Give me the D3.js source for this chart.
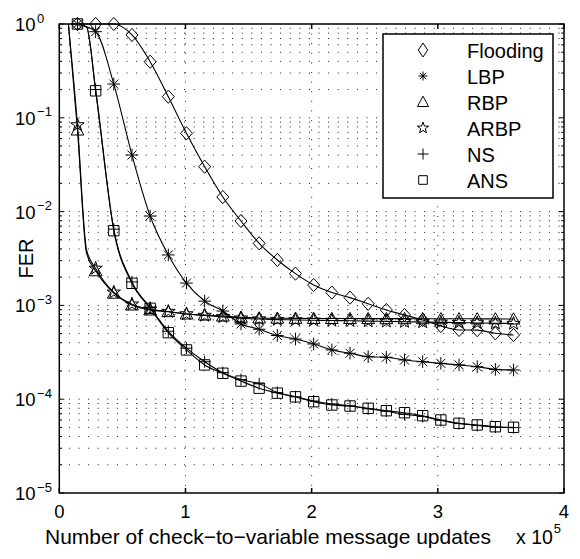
<!DOCTYPE html>
<html><head><meta charset="utf-8">
<script src="https://cdn.jsdelivr.net/npm/d3@7"></script>
<style>body{margin:0;background:#fff}svg{display:block}text{font-family:"Liberation Sans",Arial,Helvetica,sans-serif;fill:#000}</style>
</head><body><svg id="c" width="580" height="559"></svg>
<script>
// x positions of the plotted points (units of 1e5 message updates)
const markerX = [0.144,0.288,0.432,0.576,0.72,0.864,1.008,1.152,1.296,1.44,1.584,1.728,1.872,2.016,2.16,2.304,2.448,2.592,2.736,2.88,3.024,3.168,3.312,3.456,3.6];
const seriesNames = ["Flooding","LBP","RBP","ARBP","NS","ANS"];
const flooding = [1,1,1,0.764,0.396,0.168,0.0684,0.0301,0.0143,0.00794,0.00459,0.00305,0.00218,0.00165,0.00137,0.00121,0.00104,0.000893,0.00079,0.000699,0.000603,0.000547,0.000545,0.000504,0.000483];
const lbp = [1,0.828,0.229,0.0401,0.00897,0.00345,0.00173,0.00111,0.000871,0.000634,0.000557,0.000478,0.000438,0.000388,0.000335,0.000309,0.000284,0.00028,0.000262,0.000251,0.000241,0.000232,0.000222,0.000208,0.000205];
const rbp = [0.0741,0.00234,0.00135,0.00101,0.000893,0.000857,0.00081,0.00079,0.00077,0.000747,0.000735,0.00073,0.000728,0.000726,0.000725,0.000724,0.000723,0.000722,0.000722,0.000721,0.00072,0.00072,0.000719,0.000718,0.000716];
const arbp = [0.0838,0.00248,0.00138,0.00103,0.00091,0.00086,0.00081,0.00078,0.000755,0.00073,0.000715,0.000705,0.0007,0.000695,0.00069,0.000685,0.00068,0.000675,0.00067,0.000665,0.00066,0.000655,0.00065,0.000645,0.00064];
const ns = [1,0.2,0.0065,0.00178,0.00095,0.00053,0.00035,0.000251,0.000192,0.000162,0.000146,0.000118,0.000106,0.0000955,0.000089,0.000085,0.000079,0.0000745,0.000069,0.0000655,0.0000595,0.000055,0.0000525,0.0000505,0.0000498];
const ans = [1,0.194,0.00626,0.00172,0.000931,0.000512,0.000335,0.000232,0.000189,0.000156,0.000131,0.000116,0.000106,0.000094,0.0000867,0.0000846,0.00008,0.0000754,0.0000718,0.0000667,0.00006,0.0000553,0.0000531,0.0000509,0.0000501];
const rbpLead = [[0.072,1],[0.216,0.0036]];
const arbpLead = [[0.072,1],[0.216,0.0039]];
const nsLead = [[0.216,0.93]];
const ansLead = [[0.216,0.93]];
const xTicks = [0,1,2,3,4];
const yDecades = [-5,-4,-3,-2,-1,0];

const svg = d3.select("#c");
const W = 580, H = 559;
const L = 59.3, R = 564, T = 24, B = 493;
const x = d3.scaleLinear().domain([0,4]).range([L,R]);
const y = d3.scaleLog().domain([1e-5,1]).range([B,T]);

svg.append("rect").attr("width",W).attr("height",H).attr("fill","#fff");

// grid
const g = svg.append("g");
const gridY = [];
yDecades.forEach(d => { if (d < 0) for (let m = 1; m <= 9; m++) gridY.push(m*Math.pow(10,d)); });
gridY.filter(v => v > 1e-5*1.0001).forEach(v => {
  g.append("line").attr("x1",L).attr("x2",R).attr("y1",y(v)).attr("y2",y(v))
   .attr("stroke","#000").attr("stroke-width",0.9).attr("stroke-dasharray","1,8.6");
});
xTicks.filter(t => t > 0 && t < 4).forEach(t => {
  g.append("line").attr("x1",x(t)).attr("x2",x(t)).attr("y1",T).attr("y2",B)
   .attr("stroke","#000").attr("stroke-width",0.9).attr("stroke-dasharray","1,8.6");
});

// markers
function pentagram(ro, ri){
  const p=[]; for(let i=0;i<10;i++){const r=i%2?ri:ro; const a=-Math.PI/2+i*Math.PI/5; p.push([r*Math.cos(a), r*Math.sin(a)]);}
  return "M"+p.map(q=>q[0].toFixed(2)+","+q[1].toFixed(2)).join("L")+"Z";
}
const shapes = {
  "Flooding": "M0,-6.6L6,0L0,6.6L-6,0Z",
  "LBP": "M-6.3,0H6.3M0,-6.3V6.3M-4.5,-4.5L4.5,4.5M-4.5,4.5L4.5,-4.5",
  "RBP": "M0,-6.2L6.4,5L-6.4,5Z",
  "ARBP": pentagram(7,2.8),
  "NS": "M-6,0H6M0,-6V6",
  "ANS": "M-5.2,-5.2H5.2V5.2H-5.2Z"
};
const legendShapes = {
  "Flooding": "M0,-7L4.7,0L0,7L-4.7,0Z",
  "LBP": "M-4.5,0H4.5M0,-4.5V4.5M-3.2,-3.2L3.2,3.2M-3.2,3.2L3.2,-3.2",
  "RBP": "M0,-5.8L5.6,4.5L-5.6,4.5Z",
  "ARBP": pentagram(6,2.4),
  "NS": "M-5.5,0H5.5M0,-5.5V5.5",
  "ANS": "M-4.3,-4.3H4.3V4.3H-4.3Z"
};
const seriesValues = {"Flooding":flooding,"LBP":lbp,"RBP":rbp,"ARBP":arbp,"NS":ns,"ANS":ans};
const leads = {"Flooding":[],"LBP":[],"RBP":rbpLead,"ARBP":arbpLead,"NS":nsLead,"ANS":ansLead};

svg.append("clipPath").attr("id","clip").append("rect").attr("x",L).attr("y",T-8).attr("width",R-L).attr("height",B-T+8);
const plot = svg.append("g").attr("clip-path","url(#clip)");
const line = d3.line().x(d=>x(d[0])).y(d=>y(d[1])).curve(d3.curveMonotoneX);

seriesNames.forEach(name => {
  const vals = seriesValues[name];
  const pts = markerX.map((xv,i)=>[xv, vals[i]]).concat(leads[name]).sort((a,b)=>a[0]-b[0]);
  plot.append("path").attr("d", line(pts)).attr("fill","none").attr("stroke","#000").attr("stroke-width",1.1);
});
seriesNames.forEach(name => {
  const vals = seriesValues[name];
  svg.append("g").selectAll("path").data(markerX.map((xv,i)=>[xv, vals[i]])).join("path")
    .attr("transform", d=>`translate(${x(d[0])},${y(d[1])})`)
    .attr("d", shapes[name]).attr("fill","none").attr("stroke","#000").attr("stroke-width",1);
});

// axes box and ticks
const ax = svg.append("g").attr("stroke","#000").attr("stroke-width",1.5);
ax.append("rect").attr("x",L).attr("y",T).attr("width",R-L).attr("height",B-T).attr("fill","none");
xTicks.forEach(t => {
  ax.append("line").attr("x1",x(t)).attr("x2",x(t)).attr("y1",B).attr("y2",B-5);
  ax.append("line").attr("x1",x(t)).attr("x2",x(t)).attr("y1",T).attr("y2",T+5);
});
gridY.concat([1]).forEach(v => {
  const isMajor = Math.abs(Math.log10(v) - Math.round(Math.log10(v))) < 1e-9;
  const len = isMajor ? 5 : 2.8;
  ax.append("line").attr("x1",L).attr("x2",L+len).attr("y1",y(v)).attr("y2",y(v)).attr("stroke-width",1);
  ax.append("line").attr("x1",R).attr("x2",R-len).attr("y1",y(v)).attr("y2",y(v)).attr("stroke-width",1);
});

// tick labels
xTicks.forEach(t => {
  svg.append("text").attr("x",x(t)).attr("y",518).attr("text-anchor","middle").attr("font-size",18.5).text(t);
});
yDecades.forEach(d => {
  const tx = svg.append("text").attr("x",15).attr("y",y(Math.pow(10,d))+7).attr("font-size",18.5);
  tx.append("tspan").text("10");
  tx.append("tspan").attr("font-size",13).attr("dy",-8.5).attr("dx",1.5).text(d===0?"0":"\u2212"+(-d));
});

// axis titles
svg.append("text").attr("x",45).attr("y",544).attr("font-size",21).text("Number of check\u2212to\u2212variable message updates");
const ex = svg.append("text").attr("x",516).attr("y",544).attr("font-size",19.5);
ex.append("tspan").text("x 10");
ex.append("tspan").attr("font-size",13).attr("dy",-11).attr("dx",1).text("5");
svg.append("text").attr("transform","translate(33,258.5) rotate(-90)").attr("text-anchor","middle").attr("font-size",20).text("FER");

// legend
const lg = svg.append("g");
lg.append("rect").attr("x",383).attr("y",34).attr("width",170).attr("height",164).attr("fill","#fff").attr("stroke","#000").attr("stroke-width",1.5);
seriesNames.forEach((name,i) => {
  const cy = 50 + i*26;
  lg.append("path").attr("transform",`translate(423,${cy})`).attr("d",legendShapes[name]).attr("fill","none").attr("stroke","#000").attr("stroke-width",1);
  lg.append("text").attr("x",467).attr("y",cy+7.5).attr("font-size",20).text(name);
});
</script></body></html>
